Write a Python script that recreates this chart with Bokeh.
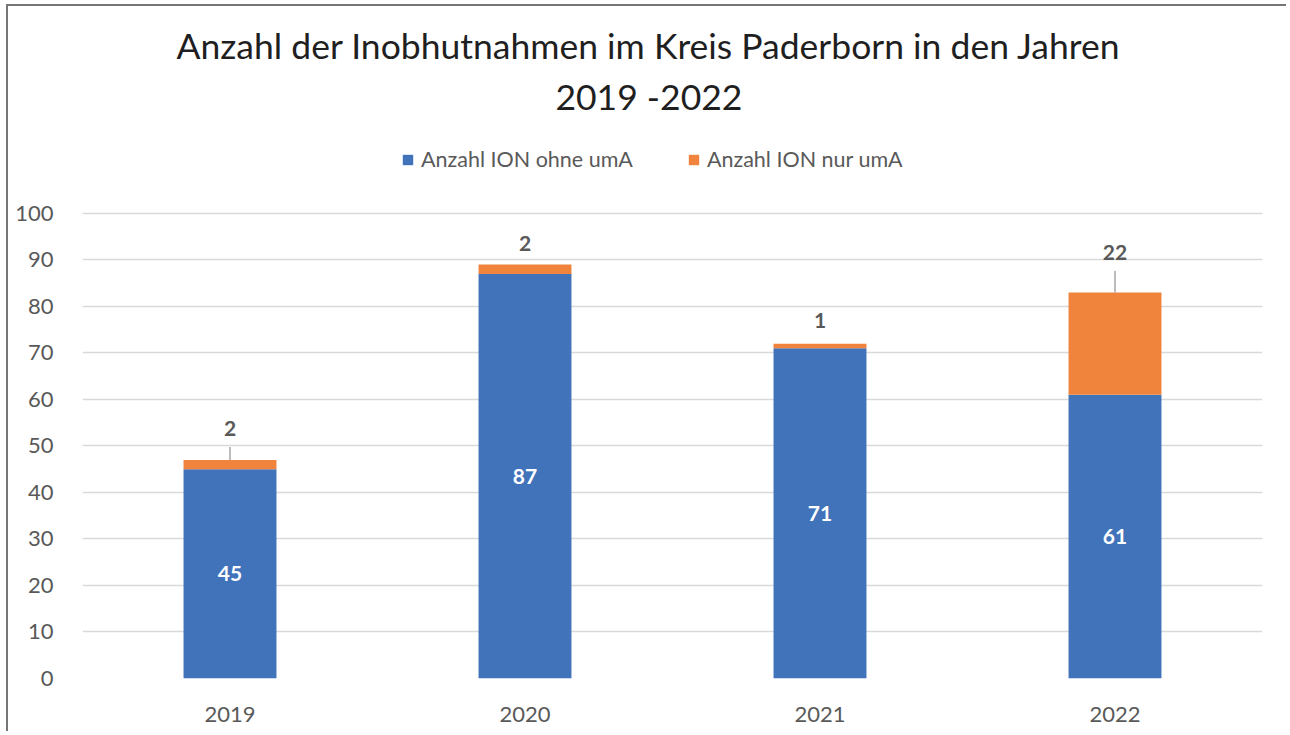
from bokeh.plotting import figure
from bokeh.models import (Legend, LegendItem, Label, ColumnDataSource,
                          FactorRange, Range1d, FixedTicker)
from bokeh.core.properties import value
from bokeh.embed import file_html
from bokeh.resources import INLINE

years = ["2019", "2020", "2021", "2022"]
ohne_uma = [45, 87, 71, 61]
nur_uma = [2, 2, 1, 22]
series_names = ["Anzahl ION ohne umA", "Anzahl ION nur umA"]
title_lines = ["Anzahl der Inobhutnahmen im Kreis Paderborn in den Jahren", "2019 -2022"]
y_ticks = [0, 10, 20, 30, 40, 50, 60, 70, 80, 90, 100]
# y position (data units) of the orange value labels, as placed in the original
orange_label_y = [53.8, 93.5, 77.0, 91.6]
leader = [True, False, False, True]

BLUE = "#4173BA"
ORANGE = "#F0843D"
GRAY = "#595959"
FONT = "Lato"

totals = [a + b for a, b in zip(ohne_uma, nur_uma)]
src = ColumnDataSource(dict(
    year=years, ohne=ohne_uma, nur=nur_uma, total=totals,
    blue_mid=[v / 2 for v in ohne_uma],
    blue_txt=[str(v) for v in ohne_uma],
    or_txt=[str(v) for v in nur_uma],
    or_y=orange_label_y,
))

# y range extends above 100 so that the title and legend area lie in the frame
p = figure(x_range=FactorRange(*years, range_padding=0), y_range=Range1d(0, 144.5),
           width=1280, height=727, output_backend="svg", toolbar_location=None,
           min_border_left=74, min_border_right=26, min_border_top=0, min_border_bottom=55)
p.styles = {"margin-left": "6px", "margin-top": "4px",
            "border-left": "2px solid #767676", "border-top": "2px solid #767676"}
p.outline_line_color = None
p.background_fill_color = "white"
p.border_fill_color = "white"

rs = p.vbar_stack(["ohne", "nur"], x="year", width=0.315, source=src,
                  color=[BLUE, ORANGE], line_color=None)

# value labels
p.text(x="year", y="blue_mid", text="blue_txt", source=src, text_align="center",
       text_baseline="middle", text_color="white", text_font=value(FONT),
       text_font_style="bold", text_font_size="21px")
p.text(x="year", y="or_y", text="or_txt", source=src, text_align="center",
       text_baseline="middle", text_color=GRAY, text_font=value(FONT),
       text_font_style="bold", text_font_size="21px")
lx = [y for y, l in zip(years, leader) if l]
ly0 = [oy - 4.0 for oy, l in zip(orange_label_y, leader) if l]
ly1 = [t for t, l in zip(totals, leader) if l]
p.segment(x0=lx, y0=ly0, x1=lx, y1=ly1, line_color="#a6a6a6", line_width=1.5)

# axes
p.yaxis.ticker = FixedTicker(ticks=y_ticks)
for ax in (p.xaxis[0], p.yaxis[0]):
    ax.axis_line_color = None
    ax.major_tick_line_color = None
    ax.minor_tick_line_color = None
    ax.major_label_text_color = GRAY
    ax.major_label_text_font = FONT
    ax.major_label_text_font_size = "22px"
p.yaxis.major_label_standoff = 23
p.xaxis.major_label_standoff = 22
p.xgrid.grid_line_color = None
p.ygrid.grid_line_color = "#d9d9d9"
p.ygrid.grid_line_width = 1.5

legend = Legend(items=[LegendItem(label=series_names[0], renderers=[rs[0]]),
                       LegendItem(label=series_names[1], renderers=[rs[1]])],
                orientation="horizontal", location=(319, 506),
                label_text_font=FONT, label_text_font_size="21.5px", label_text_color=GRAY,
                glyph_width=13, glyph_height=13, label_standoff=7, spacing=54,
                border_line_color=None, background_fill_alpha=0,
                margin=0, padding=0)
p.add_layout(legend, "center")

# title (two lines)
for txt, ty in zip(title_lines, [136.1, 125.2]):
    p.add_layout(Label(x=1.92, y=ty, text=txt, text_align="center",
                       text_baseline="alphabetic", text_font=FONT,
                       text_font_size="35.5px", text_color="#1f1f1f"))

open("out.html", "w").write(file_html(p, INLINE))
